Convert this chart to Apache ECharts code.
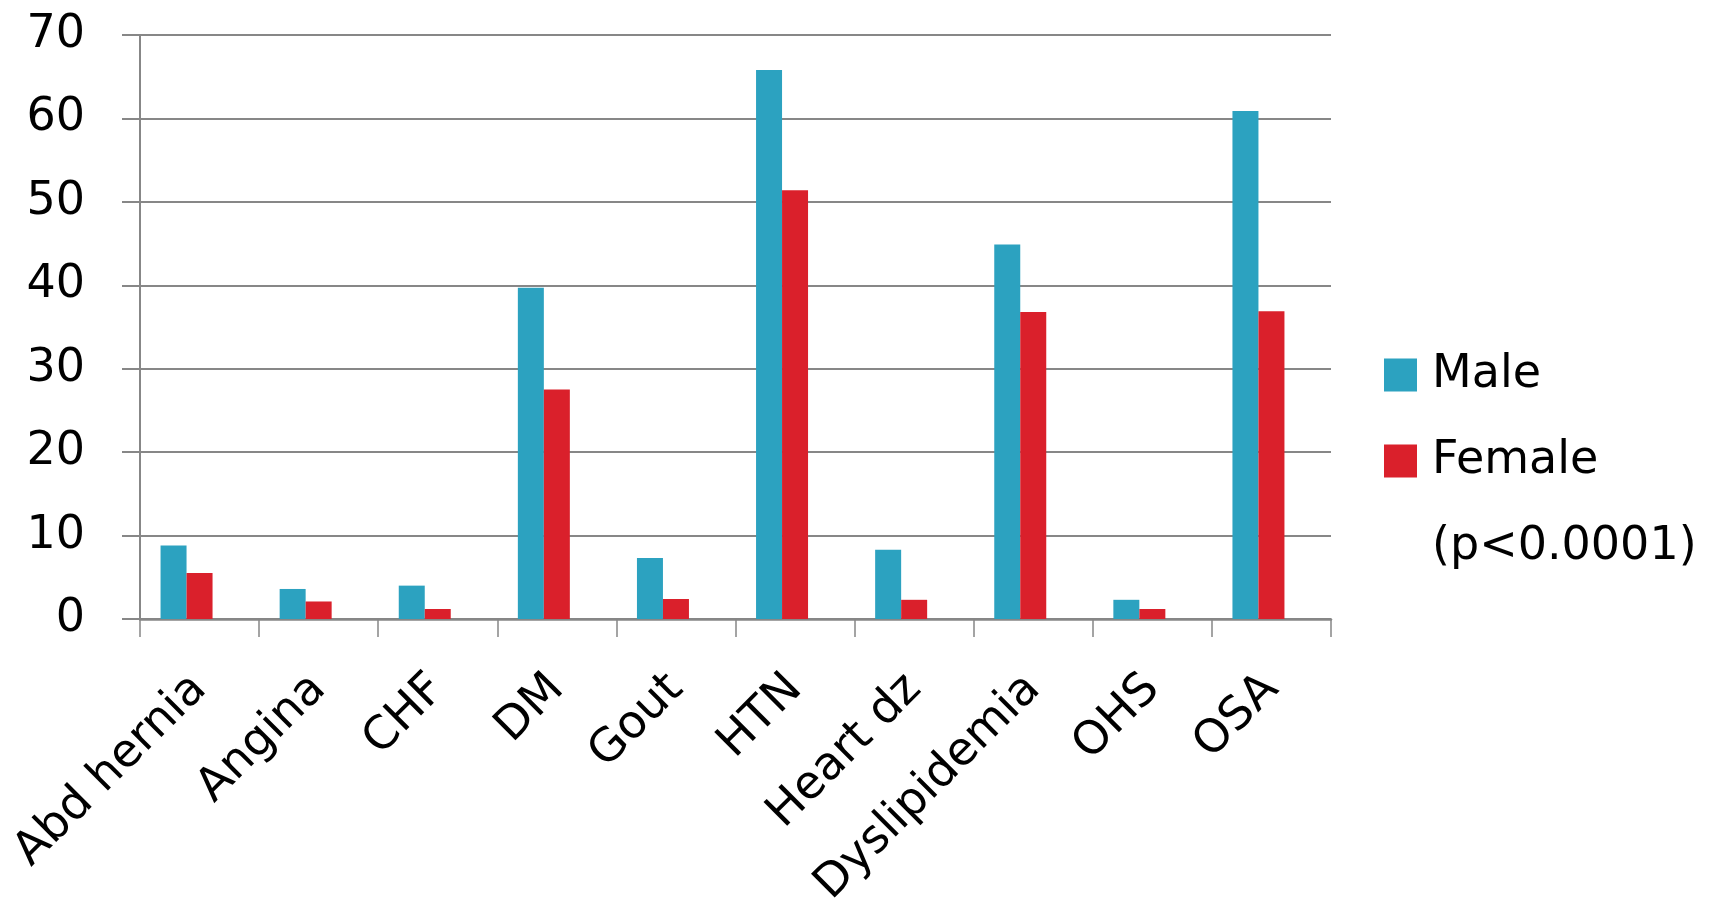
<!DOCTYPE html>
<html>
<head>
<meta charset="utf-8">
<script src="https://cdn.jsdelivr.net/npm/echarts@6/dist/echarts.min.js"></script>
<style>
html,body{margin:0;padding:0;background:#fff;}
#chart{width:1717px;height:903px;}
</style>
</head>
<body>
<div id="chart"></div>
<script>
const categories = ['Abd hernia','Angina','CHF','DM','Gout','HTN','Heart dz','Dyslipidemia','OHS','OSA'];
const maleValues = [8.8, 3.6, 4.0, 39.7, 7.3, 65.8, 8.3, 44.9, 2.3, 60.9];
const femaleValues = [5.5, 2.1, 1.2, 27.5, 2.4, 51.4, 2.3, 36.8, 1.2, 36.9];
const pValues = [];
const seriesNames = ['Male', 'Female', '(p<0.0001)'];
const yTicks = {min: 0, max: 70, interval: 10};

const FONT = 'DejaVu Sans';
const gray = '#878787';
const chart = echarts.init(document.getElementById('chart'), null, {renderer: 'canvas'});
chart.setOption({
  animation: false,
  backgroundColor: '#ffffff',
  grid: {left: 140, right: 386, top: 35, bottom: 284, containLabel: false, outerBoundsMode: 'none'},
  legend: {
    orient: 'vertical',
    left: 1379,
    top: 347,
    itemWidth: 33,
    itemHeight: 33,
    itemGap: 40,
    icon: 'rect',
    data: seriesNames,
    selectedMode: false,
    textStyle: {fontFamily: FONT, fontSize: 46, lineHeight: 40, color: '#000', padding: [0, 0, 0, 10]}
  },
  xAxis: {
    type: 'category',
    data: categories,
    axisLine: {lineStyle: {color: gray, width: 2.5}},
    axisTick: {show: true, length: 18, lineStyle: {color: gray, width: 1.5}},
    axisLabel: {rotate: 45, interval: 0, margin: 63, fontFamily: FONT, fontSize: 46, color: '#000'}
  },
  yAxis: {
    type: 'value',
    min: yTicks.min, max: yTicks.max, interval: yTicks.interval,
    axisLine: {show: true, lineStyle: {color: gray, width: 2}},
    axisTick: {show: true, length: 18, lineStyle: {color: gray, width: 2}},
    splitLine: {show: true, lineStyle: {color: gray, width: 2}},
    axisLabel: {margin: 55, fontFamily: FONT, fontSize: 46, color: '#000', padding: [0, 0, 8, 0]}
  },
  series: [
    {name: seriesNames[0], type: 'bar', data: maleValues, barWidth: 26, barGap: '0%', itemStyle: {color: '#2ca2c0'}},
    {name: seriesNames[1], type: 'bar', data: femaleValues, barWidth: 26, barGap: '0%', itemStyle: {color: '#da202b'}},
    {name: seriesNames[2], type: 'bar', data: pValues, barWidth: 26, barGap: '0%', itemStyle: {color: 'rgba(0,0,0,0)'}}
  ]
});
</script>
</body>
</html>
